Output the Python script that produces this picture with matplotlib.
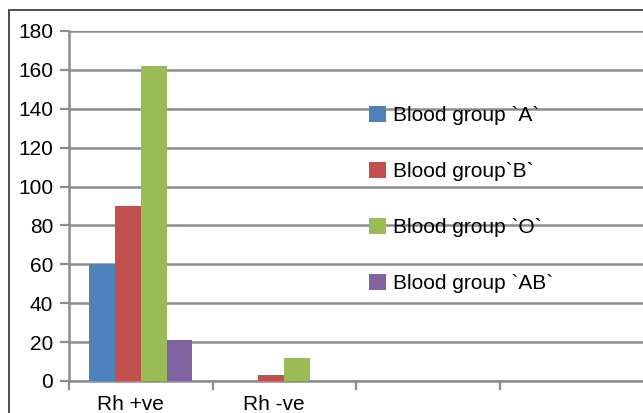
import numpy as np
import matplotlib
matplotlib.use("Agg")
import matplotlib.pyplot as plt
from matplotlib.patches import Rectangle, Patch

plt.rcParams['font.family'] = ['Liberation Sans', 'DejaVu Sans']

# data
categories = ["Rh +ve", "Rh -ve", "", ""]
groups = ["Blood group `A`", "Blood group`B`", "Blood group `O`", "Blood group `AB`"]
group_a = [60, 0]
group_b = [90, 3]
group_o = [162, 12]
group_ab = [21, 0]
colors = ["#4F81BD", "#C0504D", "#9BBB59", "#8064A2"]
yticks = [0, 20, 40, 60, 80, 100, 120, 140, 160, 180]

W, H = 643, 413
fig = plt.figure(figsize=(W / 100, H / 100), dpi=100)
ax = fig.add_axes([69 / W, 1 - 381 / H, 1 - 69 / W, (381 - 31) / H])

grid_col = "#8c8c8c"
series = [group_a, group_b, group_o, group_ab]
bw = 0.18
x = np.arange(len(group_a))
for k, (vals, c) in enumerate(zip(series, colors)):
    ax.bar(x + (k - 1.5) * bw, vals, width=bw, color=c, zorder=3, linewidth=0)

ax.set_xlim(-0.5, len(categories) - 0.5)
ax.set_ylim(0, 180)
ax.set_yticks(yticks)
ax.yaxis.grid(True, color=grid_col, linewidth=1.8, zorder=0)

# category boundaries as ticks, labels centred (slightly left, as in the original)
ax.set_xticks(np.arange(len(categories)) - 0.5)
ax.set_xticklabels([])
ax.set_xticks(np.arange(len(categories)) - 0.07, minor=True)
ax.set_xticklabels(categories, minor=True)
ax.tick_params(axis='x', which='minor', length=0, pad=10, labelsize=15)
ax.tick_params(axis='x', which='major', length=6.5, width=1.6, color=grid_col, direction='out')
ax.tick_params(axis='y', length=6.5, width=1.6, color=grid_col, pad=5, labelsize=15)

for s in ['top', 'right']:
    ax.spines[s].set_visible(False)
ax.spines['left'].set_color(grid_col)
ax.spines['left'].set_linewidth(1.8)
ax.spines['bottom'].set_color(grid_col)
ax.spines['bottom'].set_linewidth(1.8)

handles = [Patch(facecolor=c, edgecolor='none') for c in colors]
fig.legend(handles, groups, loc='upper left', bbox_to_anchor=(369 / W, 1 - 106 / H),
           frameon=False, fontsize=15, borderpad=0, borderaxespad=0,
           handlelength=0.82, handleheight=0.82, handletextpad=0.35, labelspacing=1.76)

# outer chart border (cut off at right and bottom)
fig.patches.append(Rectangle((9 / W, -0.1), 1.2, 1 - 10 / H + 0.1, transform=fig.transFigure,
                             fill=False, edgecolor="#404040", linewidth=1.3))

fig.savefig("out.png", dpi=100)
